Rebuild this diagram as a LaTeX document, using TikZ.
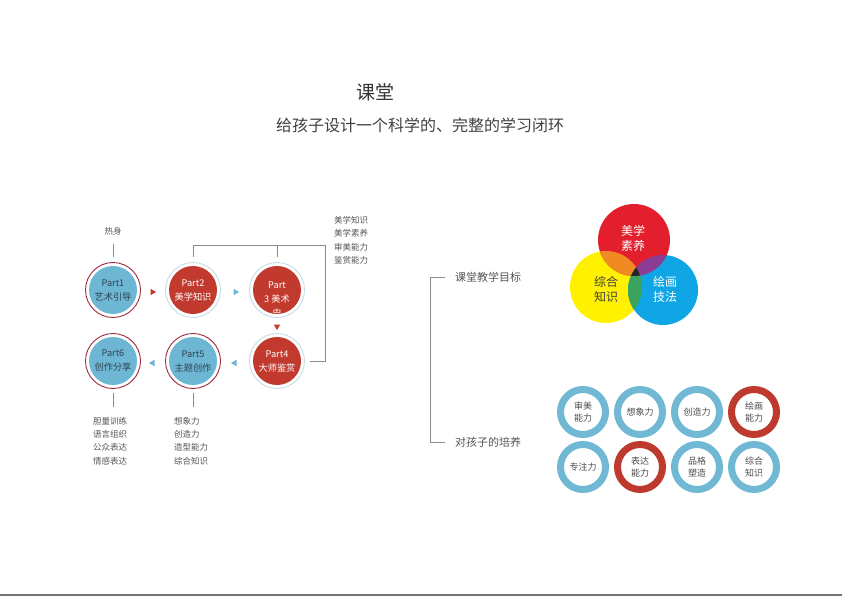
\documentclass[tikz,border=0pt]{standalone}
\usepackage{fontspec}
\setmainfont{Noto Sans CJK SC}
\setsansfont{Noto Sans CJK SC}
\usetikzlibrary{shapes.geometric, positioning}

\definecolor{partred}{HTML}{C23A2E}
\definecolor{partblue}{HTML}{6DB6D4}
\definecolor{parttext}{HTML}{2F4452}
\definecolor{ringdark}{HTML}{9E2A3C}
\definecolor{ringlight}{HTML}{C4DCE4}
\definecolor{linegray}{HTML}{8C8C8C}
\definecolor{txtgray}{HTML}{555555}
\definecolor{vred}{HTML}{E31E2D}
\definecolor{vyel}{HTML}{FFF100}
\definecolor{vblue}{HTML}{10A6E6}
\definecolor{vorange}{HTML}{F18A23}
\definecolor{vpurple}{HTML}{8A3D93}
\definecolor{vgreen}{HTML}{3AA35E}
\definecolor{vdark}{HTML}{262626}
\definecolor{qblue}{HTML}{70B8D3}
\definecolor{qred}{HTML}{BE3A2F}

\begin{document}
\begin{tikzpicture}[
    x=1pt, y=-1pt,
    txt/.style={text=txtgray, font=\fontsize{8.5}{13.3}\selectfont, align=left, inner sep=0pt},
    tgt/.style={text=txtgray, font=\fontsize{11}{13}\selectfont, inner sep=0pt},
    part/.style={circle, minimum size=48pt, inner sep=0pt, align=center, font=\fontsize{9.2}{14}\selectfont},
    redpart/.style={part, fill=partred, text=white},
    bluepart/.style={part, fill=partblue, text=parttext},
    ringD/.style={draw=ringdark, line width=0.9pt},
    ringL/.style={draw=ringlight, line width=0.9pt},
    tri/.style={isosceles triangle, isosceles triangle apex angle=60, inner sep=1.5pt},
    ln/.style={draw=linegray, line width=0.8pt},
    venntxt/.style={align=center, inner sep=0pt, font=\fontsize{12}{15}\selectfont},
    qring/.style={circle, draw=qblue, line width=7pt, minimum size=45pt, inner sep=0pt, align=center,
                  text=black!70, font=\fontsize{9}{12}\selectfont},
    qringR/.style={qring, draw=qred}
]
\useasboundingbox (0,0) rectangle (842,596);

% ===== TITOLO =====
\node[font=\fontsize{19}{20}\selectfont, text=black!80] (TITLE) at (375,92) {课堂};
\node[font=\fontsize{16}{18}\selectfont, text=black!75] (SUB) at (420,125) {给孩子设计一个科学的、完整的学习闭环};

% ===== CICLO DELLE SEI PARTI =====
\node[bluepart] (P1) at (113,290) {Part1\\艺术引导};
\node[redpart]  (P2) at (193,290) {Part2\\美学知识};
\node[redpart]  (P3) at (277,290) {};
\node[redpart]  (P4) at (277,361) {Part4\\大师鉴赏};
\node[bluepart] (P5) at (193,361) {Part5\\主题创作};
\node[bluepart] (P6) at (113,361) {Part6\\创作分享};
\begin{scope}
  \clip (240,270) rectangle (314,312.5);
  \node[part, text=white, anchor=north] (P3T) at (277,275) {Part\\3 美术\\史};
\end{scope}

% anelli esterni
\draw[ringD] (P1.center) circle[radius=27.5pt];
\draw[ringL] (P2.center) circle[radius=27.5pt];
\draw[ringL] (P3.center) circle[radius=27.5pt];
\draw[ringL] (P4.center) circle[radius=27.5pt];
\draw[ringD] (P5.center) circle[radius=27.5pt];
\draw[ringD] (P6.center) circle[radius=27.5pt];

% triangolini di passaggio
\node[tri, fill=partred]                          (T12) at (152,292) {};
\node[tri, fill=partblue]                         (T23) at (235,292) {};
\node[tri, fill=partred, shape border rotate=-90] (T34) at (277,326) {};
\node[tri, fill=partblue, shape border rotate=180] (T45) at (235,363) {};
\node[tri, fill=partblue, shape border rotate=180] (T56) at (153,363) {};

% riscaldamento
\node[txt] (WARM) at (113,231) {热身};
\draw[ln] ([yshift=-9pt]WARM.south) -- ([yshift=9pt]P1.north);

% parentesi Part2-Part4
\coordinate (BRT) at (325,245);
\draw[ln] ([yshift=9pt]P2.north) -- (P2 |- BRT) -- (BRT) -- (BRT |- P4) -- ([xshift=9pt]P4.east);
\draw[ln] ([yshift=9pt]P3.north) -- (P3 |- BRT);
\node[txt, anchor=north west] (KNOW) at (334,216) {美学知识\\美学素养\\审美能力\\鉴赏能力};

% elenchi sotto Part6 e Part5
\node[txt, anchor=north west] (L6) at (93,417) {胆量训练\\语言组织\\公众表达\\情感表达};
\node[txt, anchor=north west] (L5) at (174,417) {想象力\\创造力\\造型能力\\综合知识};
\draw[ln] ([yshift=-8pt]P6.south) -- ([yshift=-22pt]P6.south);
\draw[ln] ([yshift=-8pt]P5.south) -- ([yshift=-22pt]P5.south);

% ===== OBIETTIVI =====
\node[tgt, anchor=west] (G1) at (455,277) {课堂教学目标};
\node[tgt, anchor=west] (G2) at (455,442) {对孩子的培养};
\draw[ln] ([xshift=-10pt]G1.west) -- ++(-15,0) |- ([xshift=-10pt]G2.west);

% ===== DIAGRAMMA DI VENN =====
\coordinate (VR) at (634,240);
\coordinate (VY) at (606,287);
\coordinate (VB) at (663,290);
\fill[vyel]  (VY) circle[radius=36pt];
\fill[vblue] (VB) circle[radius=35pt];
\fill[vred]  (VR) circle[radius=36pt];
\begin{scope}
  \clip (VR) circle[radius=36pt];
  \fill[vorange] (VY) circle[radius=36pt];
  \fill[vpurple] (VB) circle[radius=35pt];
\end{scope}
\begin{scope}
  \clip (VY) circle[radius=36pt];
  \fill[vgreen] (VB) circle[radius=35pt];
\end{scope}
\begin{scope}
  \clip (VR) circle[radius=36pt];
  \clip (VY) circle[radius=36pt];
  \fill[vdark] (VB) circle[radius=35pt];
\end{scope}
\node[venntxt, text=white]      (VRT) at (633,238) {美学\\素养};
\node[venntxt, text=black!75]   (VYT) at (606,289) {综合\\知识};
\node[venntxt, text=white]      (VBT) at (665,289) {绘画\\技法};

% ===== ANELLI DELLE CAPACITA' =====
\node[qring]  (Q1) at (583,412) {审美\\能力};
\node[qring]  (Q2) at (640,412) {想象力};
\node[qring]  (Q3) at (697,412) {创造力};
\node[qringR] (Q4) at (754,412) {绘画\\能力};
\node[qring]  (Q5) at (583,467) {专注力};
\node[qringR] (Q6) at (640,467) {表达\\能力};
\node[qring]  (Q7) at (697,467) {品格\\塑造};
\node[qring]  (Q8) at (754,467) {综合\\知识};

% linea di fondo
\draw[draw=black!55, line width=1.5pt] (0,595) -- (842,595);

\end{tikzpicture}
\end{document}
